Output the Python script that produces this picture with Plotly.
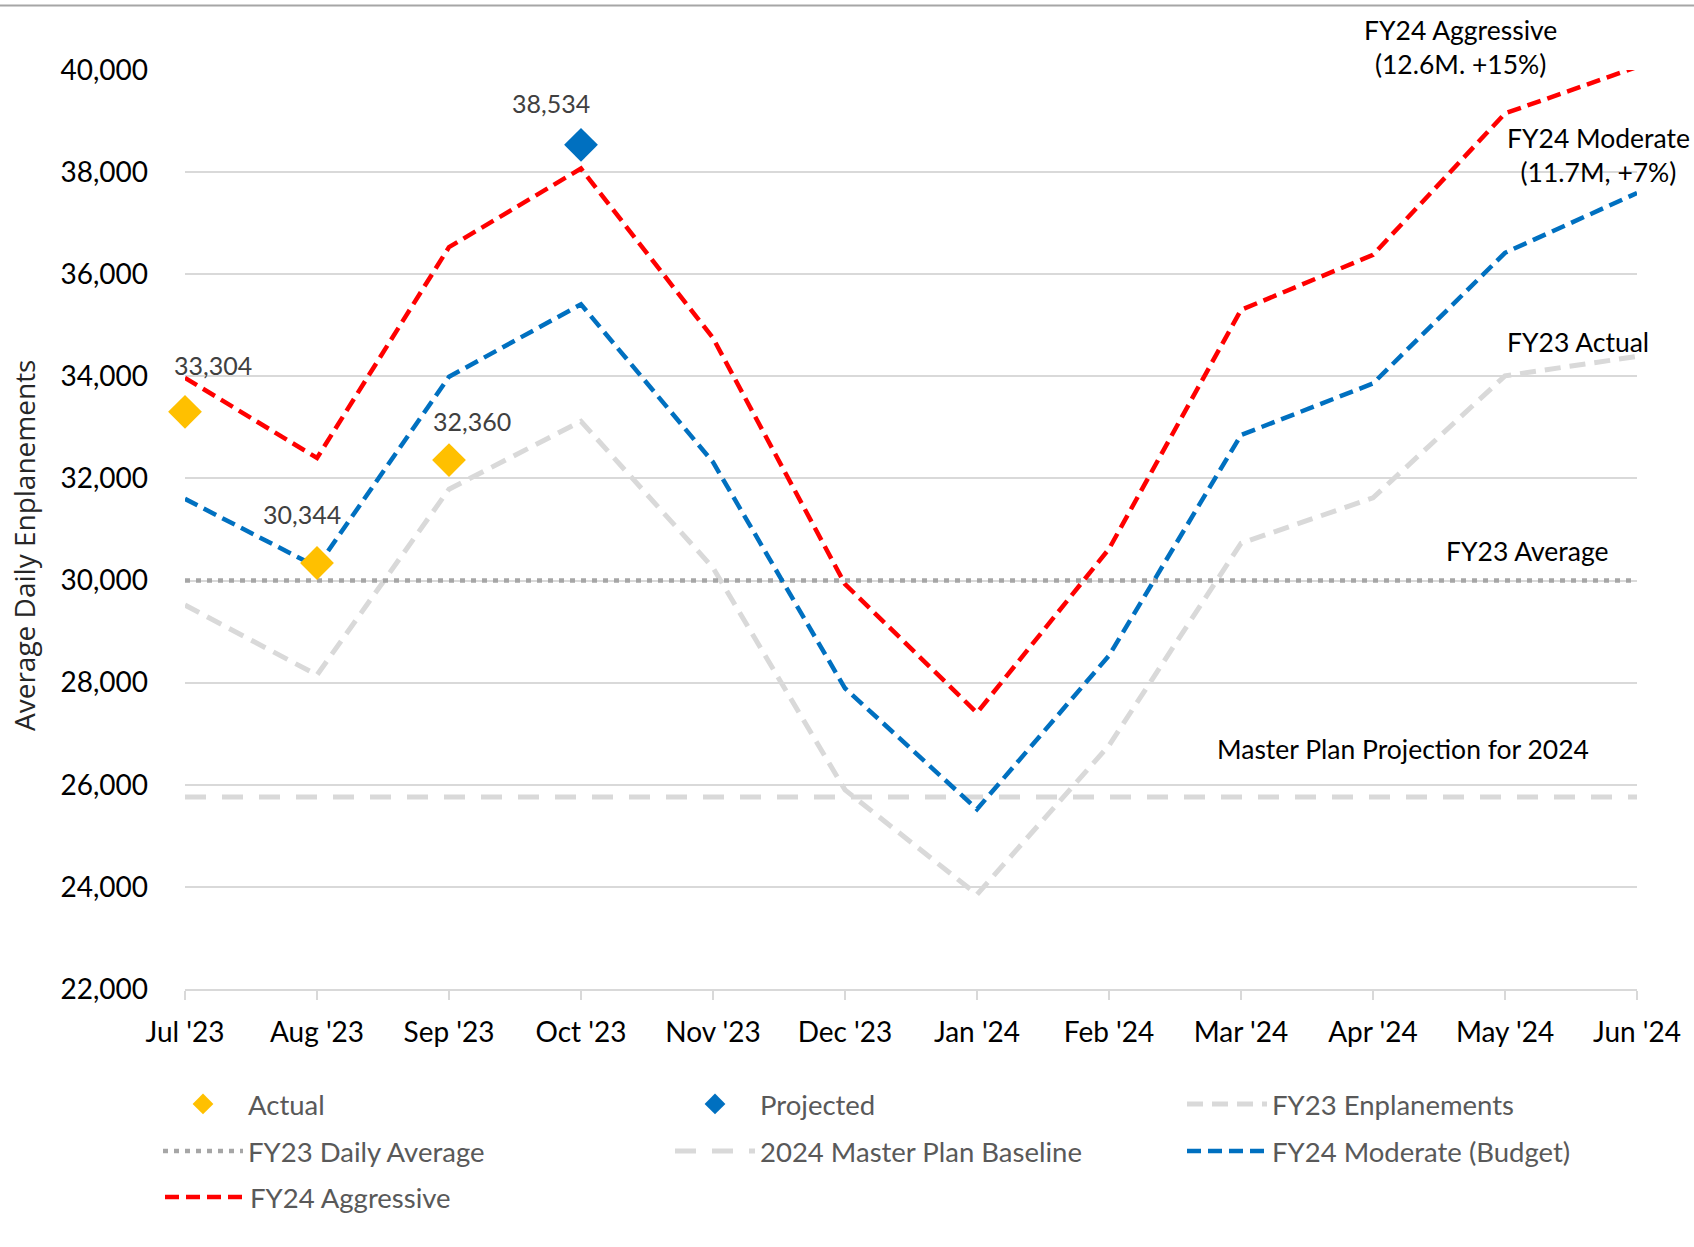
import plotly.graph_objects as go

# ---------------- data ----------------
months = ["Jul '23", "Aug '23", "Sep '23", "Oct '23", "Nov '23", "Dec '23",
          "Jan '24", "Feb '24", "Mar '24", "Apr '24", "May '24", "Jun '24"]

actual_months = ["Jul '23", "Aug '23", "Sep '23"]
actual_values = [33304, 30344, 32360]

projected_months = ["Oct '23"]
projected_values = [38534]

fy23_enplanements = [29520, 28150, 31790, 33120, 30250, 25900,
                     23850, 26770, 30730, 31620, 34010, 34390]
fy23_daily_average = [30000, 30000, 30000, 30000, 30000, 30000,
                      30000, 30000, 30000, 30000, 30000, 30000]
master_plan_baseline = [25760, 25760, 25760, 25760, 25760, 25760,
                        25760, 25760, 25760, 25760, 25760, 25760]
fy24_moderate = [31600, 30265, 33990, 35410, 32320, 27890,
                 25520, 28530, 32850, 33860, 36420, 37590]
fy24_aggressive = [33970, 32400, 36530, 38070, 34750, 29930,
                   27410, 30620, 35300, 36380, 39150, 40060]

y_ticks = [22000, 24000, 26000, 28000, 30000, 32000, 34000, 36000, 38000, 40000]

# ---------------- styles ----------------
FONT = "Lato"
RED = "#FF0000"
BLUE = "#0070C0"
GOLD = "#FFC000"
LGRAY = "#D9D9D9"
DGRAY = "#A6A6A6"

fig = go.Figure()

fig.add_trace(go.Scatter(x=months, y=fy23_enplanements, mode="lines",
                         name="FY23 Enplanements", legend="legend", legendrank=3,
                         line=dict(color=LGRAY, width=5, dash="16px,9px")))
fig.add_trace(go.Scatter(x=months, y=fy23_daily_average, mode="lines",
                         name="FY23 Daily Average", legend="legend2", legendrank=1,
                         line=dict(color=DGRAY, width=4.5, dash="5px,6px")))
fig.add_trace(go.Scatter(x=months, y=master_plan_baseline, mode="lines",
                         name="2024 Master Plan Baseline", legend="legend2", legendrank=2,
                         line=dict(color=LGRAY, width=5, dash="21px,16px")))
fig.add_trace(go.Scatter(x=months, y=fy24_moderate, mode="lines",
                         name="FY24 Moderate (Budget)", legend="legend2", legendrank=3,
                         line=dict(color=BLUE, width=4.5, dash="14px,7px")))
fig.add_trace(go.Scatter(x=months, y=fy24_aggressive, mode="lines",
                         name="FY24 Aggressive", legend="legend3", legendrank=1,
                         line=dict(color=RED, width=4.5, dash="14px,7px")))
fig.add_trace(go.Scatter(x=actual_months, y=actual_values, mode="markers",
                         name="Actual", legend="legend", legendrank=1, cliponaxis=False,
                         marker=dict(symbol="diamond", size=26, color=GOLD)))
fig.add_trace(go.Scatter(x=projected_months, y=projected_values, mode="markers",
                         name="Projected", legend="legend", legendrank=2, cliponaxis=False,
                         marker=dict(symbol="diamond", size=26, color=BLUE)))

# data labels
label_offsets = [(28, 47), (-15, 49), (23, 39), (-30, 42)]
annotations = []
for (m, v), (dx, dy) in zip(list(zip(actual_months, actual_values)) +
                            list(zip(projected_months, projected_values)),
                            label_offsets):
    annotations.append(dict(x=m, y=v, text=f"{v:,}", showarrow=False,
                            xshift=dx, yshift=dy,
                            font=dict(family=FONT, size=25, color="#404040")))

# geometry of plot area (pixels)
W, H = 1694, 1247
plot_l, plot_r, plot_t, plot_b = 185, 1637, 70, 989
pw, ph = plot_r - plot_l, plot_b - plot_t


def px_x(px):
    return (px - plot_l) / pw


def px_y(py):
    return (plot_b - py) / ph


# series annotations
series_notes = [
    (9.66, "paper", px_y(47.5), "FY24 Aggressive<br>(12.6M. +15%)"),
    (10.71, "y", 38330, "FY24 Moderate<br>(11.7M, +7%)"),
    (10.55, "y", 34670, "FY23 Actual"),
    (10.17, "y", 30580, "FY23 Average"),
    (9.23, "y", 26710, "Master Plan Projection for 2024"),
]
for x, yref, y, t in series_notes:
    annotations.append(dict(x=x, y=y, xref="x", yref=yref, text=t, showarrow=False,
                            xanchor="center", yanchor="middle",
                            font=dict(family=FONT, size=26.5, color="#000000")))

# y axis title as rotated annotation
annotations.append(dict(x=px_x(24), y=px_y(546), xref="paper", yref="paper",
                        text="Average Daily Enplanements", textangle=-90,
                        showarrow=False, xanchor="center", yanchor="middle",
                        font=dict(family="Open Sans", size=28, color="#262626")))

# top border
shapes = [dict(type="line", xref="paper", yref="paper",
               x0=px_x(0), x1=px_x(W), y0=px_y(5.5), y1=px_y(5.5),
               line=dict(color="#A6A6A6", width=2))]

legend_common = dict(orientation="h", xanchor="left", yanchor="middle",
                     entrywidth=417, entrywidthmode="pixels",
                     font=dict(family=FONT, size=27.5, color="#595959"),
                     itemwidth=80, bgcolor="rgba(0,0,0,0)", traceorder="normal")

fig.update_layout(
    width=W, height=H,
    margin=dict(l=plot_l, r=W - plot_r, t=plot_t, b=H - plot_b),
    paper_bgcolor="white", plot_bgcolor="white",
    font=dict(family=FONT, color="#000000"),
    showlegend=True,
    annotations=annotations,
    shapes=shapes,
    xaxis=dict(type="category", categoryorder="array", categoryarray=months,
               range=[0, 11], showgrid=False, zeroline=False,
               showline=True, linecolor=LGRAY, linewidth=2,
               ticks="outside", ticklen=9, tickwidth=2, tickcolor=LGRAY,
               tickfont=dict(family=FONT, size=28, color="#000000"),
               ticklabelstandoff=8),
    xaxis2=dict(overlaying="x", anchor="y", side="bottom", range=[0, 11],
                tickmode="linear", tick0=0, dtick=1, showticklabels=False,
                ticks="inside", ticklen=9, tickwidth=2, tickcolor=LGRAY,
                showgrid=False, zeroline=False, showline=False),
    yaxis=dict(range=[22000, 40000], tickvals=y_ticks, tickformat=",d",
               showgrid=True, gridcolor=LGRAY, gridwidth=2, zeroline=False,
               showline=False, ticks="",
               tickfont=dict(family=FONT, size=28, color="#000000"),
               ticklabelstandoff=36),
    legend=dict(x=px_x(160), y=px_y(1104), **legend_common),
    legend2=dict(x=px_x(160), y=px_y(1151), **legend_common),
    legend3=dict(x=px_x(160), y=px_y(1197), **legend_common),
)

fig.write_html("out.html", config={"displayModeBar": False},
               post_script="document.body.style.margin='0px';")
